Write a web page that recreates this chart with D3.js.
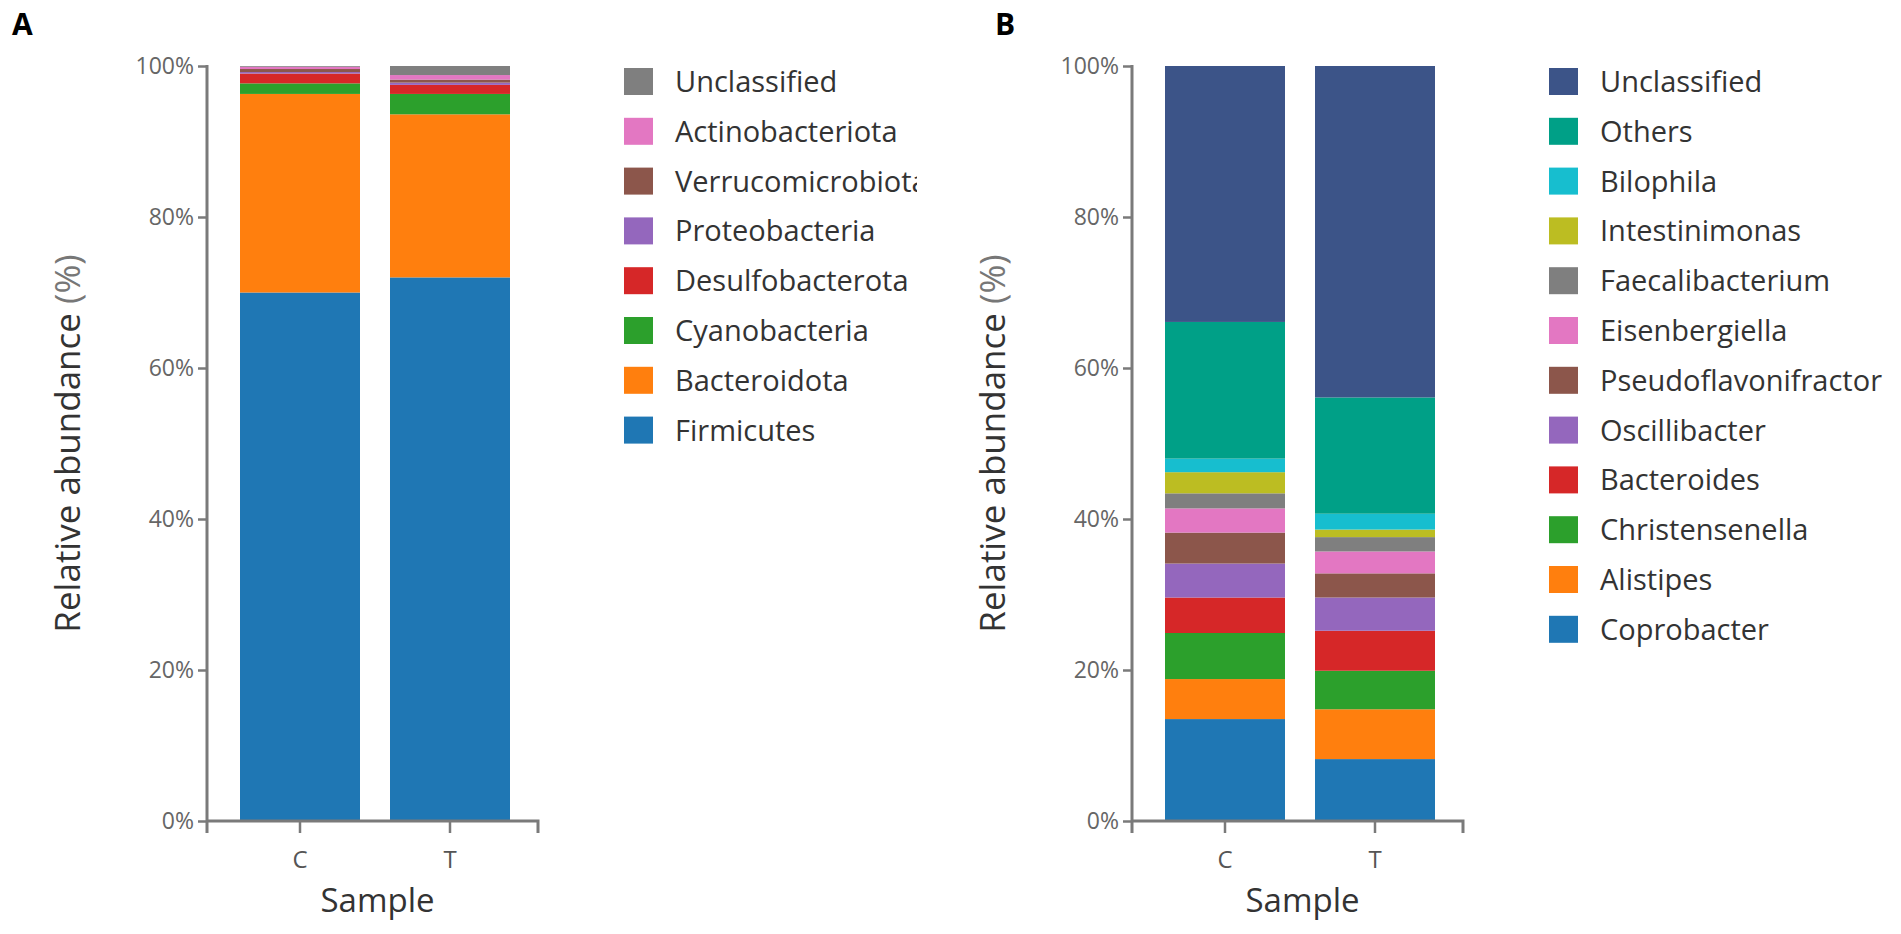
<!DOCTYPE html>
<html>
<head>
<meta charset="utf-8">
<script src="https://cdn.jsdelivr.net/npm/d3@7"></script>
<style>
  html, body { margin: 0; padding: 0; background: #fff; }
  svg { display: block; }
  text { font-family: "Open Sans", "Noto Sans", sans-serif; }
</style>
</head>
<body>
<svg id="chart" width="1901" height="934"></svg>
<script>
// ---------- DATA ----------
const samples = ["C", "T"];
const yTickValues = [0, 20, 40, 60, 80, 100];

// Panel A (phylum), stack order bottom -> top
const phylaA = ["Firmicutes", "Bacteroidota", "Cyanobacteria", "Desulfobacterota",
                "Proteobacteria", "Verrucomicrobiota", "Actinobacteriota", "Unclassified"];
const valuesA_C = [70.0, 26.3, 1.4, 1.3, 0.2, 0.4, 0.3, 0.1];
const valuesA_T = [72.0, 21.6, 2.7, 1.2, 0.3, 0.4, 0.6, 1.2];
const colorsA = ["#1f77b4", "#ff7f0e", "#2ca02c", "#d62728",
                 "#9467bd", "#8c564b", "#e377c2", "#7f7f7f"];

// Panel B (genus), stack order bottom -> top
const generaB = ["Coprobacter", "Alistipes", "Christensenella", "Bacteroides",
                 "Oscillibacter", "Pseudoflavonifractor", "Eisenbergiella", "Faecalibacterium",
                 "Intestinimonas", "Bilophila", "Others", "Unclassified"];
const valuesB_C = [13.5, 5.3, 6.1, 4.7, 4.5, 4.1, 3.2, 2.0, 2.8, 1.8, 18.1, 33.9];
const valuesB_T = [8.2, 6.6, 5.1, 5.3, 4.4, 3.2, 2.9, 1.9, 1.0, 2.1, 15.4, 43.9];
const colorsB = ["#1f77b4", "#ff7f0e", "#2ca02c", "#d62728",
                 "#9467bd", "#8c564b", "#e377c2", "#7f7f7f",
                 "#bcbd22", "#17becf", "#00a087", "#3c5488"];

// ---------- DRAW ----------
const svg = d3.select("#chart");

function panel(opts) {
  const { ox, keys, vals, colors, letter, letterX, clipRight } = opts;
  const g = svg.append("g").attr("transform", `translate(${ox},0)`);

  const axisX = 207, axisRight = 538;
  const y = d3.scaleLinear().domain([0, 100]).range([821, 66]);
  const x = d3.scaleBand().domain(samples).range([225, 525]).paddingInner(0.2).paddingOuter(0.1);

  // table rows
  const rows = samples.map((s, i) => {
    const r = { sample: s };
    keys.forEach((k, j) => { r[k] = vals[i][j]; });
    return r;
  });
  const stack = d3.stack().keys(keys)(rows);
  const color = d3.scaleOrdinal().domain(keys).range(colors);

  // bars
  g.append("g").selectAll("g").data(stack).join("g")
    .attr("fill", d => color(d.key))
    .selectAll("rect").data(d => d).join("rect")
    .attr("x", d => x(d.data.sample))
    .attr("width", x.bandwidth())
    .attr("y", d => y(d[1]))
    .attr("height", d => y(d[0]) - y(d[1]));

  const axisColor = "#7a7a7a";
  // y axis
  const yAxis = d3.axisLeft(y).tickValues(yTickValues).tickFormat(d => d + "%").tickSize(9).tickSizeOuter(0);
  const ya = g.append("g").attr("transform", `translate(${axisX},0)`).call(yAxis);
  ya.select(".domain").remove();
  ya.selectAll(".tick line").attr("stroke", axisColor).attr("stroke-width", 2.5);
  ya.selectAll(".tick text").attr("fill", "#666").attr("font-size", 23).attr("x", -13)
    .attr("font-family", "'Open Sans', sans-serif");
  g.append("line").attr("x1", axisX).attr("x2", axisX).attr("y1", y(100) - 1).attr("y2", 833)
    .attr("stroke", axisColor).attr("stroke-width", 3);

  // x axis
  const xAxis = d3.axisBottom(x).tickSize(12).tickSizeOuter(0);
  const xa = g.append("g").attr("transform", `translate(0,${y(0)})`).call(xAxis);
  xa.select(".domain").remove();
  xa.selectAll(".tick line").attr("stroke", axisColor).attr("stroke-width", 2.5);
  xa.selectAll(".tick text").attr("fill", "#555").attr("font-size", 24).attr("dy", "1.35em")
    .attr("font-family", "'Open Sans', sans-serif");
  g.append("path")
    .attr("d", `M${axisX},${y(0)}H${axisRight}V${y(0) + 12}`)
    .attr("fill", "none").attr("stroke", axisColor).attr("stroke-width", 3);

  // axis titles
  const yt = g.append("text")
    .attr("transform", `translate(80,${(y(0) + y(100)) / 2}) rotate(-90)`)
    .attr("text-anchor", "middle").attr("font-size", 35).attr("fill", "#333");
  yt.append("tspan").text("Relative abundance ");
  yt.append("tspan").attr("fill", "#777").text("(%)");

  g.append("text").attr("x", (axisX + axisRight) / 2 + 5).attr("y", 912)
    .attr("text-anchor", "middle").attr("font-size", 33).attr("fill", "#333").text("Sample");

  // legend
  const clipId = "clip" + letter;
  svg.append("clipPath").attr("id", clipId)
    .append("rect").attr("x", 0).attr("y", 0).attr("width", clipRight).attr("height", 934);
  const lg = g.append("g").attr("clip-path", `url(#${clipId})`);
  const legKeys = keys.slice().reverse();
  const leg = lg.selectAll("g.leg").data(legKeys).join("g").attr("class", "leg")
    .attr("transform", (d, i) => `translate(624,${68 + i * 49.8})`);
  leg.append("rect").attr("width", 29).attr("height", 27).attr("fill", d => color(d));
  leg.append("text").attr("x", 51).attr("y", 24).attr("font-size", 29).attr("fill", "#333").text(d => d);

  // panel letter
  svg.append("text").attr("x", letterX).attr("y", 35)
    .attr("font-family", "'Liberation Sans', Arial, sans-serif").attr("font-weight", "bold")
    .attr("font-size", 30).attr("fill", "#000").text(letter);
}

panel({ ox: 0, keys: phylaA, vals: [valuesA_C, valuesA_T], colors: colorsA, letter: "A", letterX: 12, clipRight: 917 });
panel({ ox: 925, keys: generaB, vals: [valuesB_C, valuesB_T], colors: colorsB, letter: "B", letterX: 995, clipRight: 925 + 1000 });
</script>
</body>
</html>
